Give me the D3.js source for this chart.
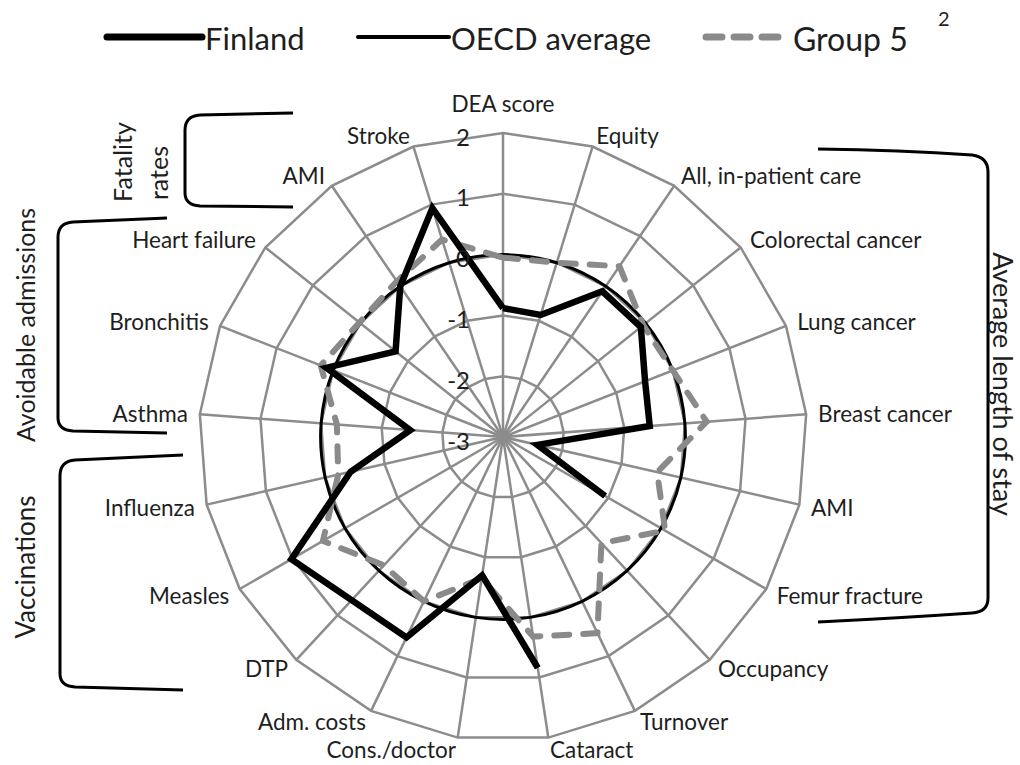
<!DOCTYPE html>
<html>
<head>
<meta charset="utf-8">
<script src="https://cdn.jsdelivr.net/npm/d3@7"></script>
<style>
  html, body { margin: 0; padding: 0; background: #fff; }
  svg { display: block; }
  text { font-family: Lato, "Open Sans", sans-serif; fill: #1e1e1e; }
</style>
</head>
<body>
<svg id="chart" width="1020" height="765"></svg>
<script>
// ---- data ----
const axes = ["DEA score", "Equity", "All, in-patient care", "Colorectal cancer", "Lung cancer",
  "Breast cancer", "AMI", "Femur fracture", "Occupancy", "Turnover", "Cataract", "Cons./doctor",
  "Adm. costs", "DTP", "Measles", "Influenza", "Asthma", "Bronchitis", "Heart failure", "AMI", "Stroke"];
const finland = [-0.88, -0.9, -0.1, -0.1, -0.49, -0.58, -2.42, -1.06, null, null, 0.84, -0.7,
  0.66, 0.66, 1.02, -0.43, -1.47, 0.12, -0.74, 0.0, 0.94];
const oecd = [0, 0, 0, 0, 0, 0, 0, 0, 0, 0, 0, 0, 0, 0, 0, 0, 0, 0, 0, 0, 0];
const group5 = [-0.05, 0.0, 0.4, -0.05, 0.0, 0.36, -0.4, 0.08, -0.62, 0.58, 0.32, -0.65,
  0.0, -0.12, 0.42, -0.22, -0.26, 0.22, 0.02, 0.1, 0.4];
const ticks = [-3, -2, -1, 0, 1, 2];
const seriesNames = ["Finland", "OECD average", "Group 5"];
const groups = [
  { label: ["Average length of stay"] },
  { label: ["Fatality", "rates"] },
  { label: ["Avoidable admissions"] },
  { label: ["Vaccinations"] }
];

// ---- layout ----
const svg = d3.select("#chart");
const cx = 503, cy = 437, R = 304;
const n = axes.length;
const r = d3.scaleLinear().domain([-3, 2]).range([0, R]);
const ang = d3.scaleLinear().domain([0, n]).range([0, 2 * Math.PI]);
const gridColor = "#8c8c8c";

const g = svg.append("g").attr("transform", `translate(${cx},${cy})`);

// rings (polygons)
const ringLine = d3.lineRadial().curve(d3.curveLinearClosed);
ticks.filter(t => t > -3).forEach(t => {
  g.append("path")
    .attr("d", ringLine(axes.map((a, i) => [ang(i), r(t)])))
    .attr("fill", "none").attr("stroke", gridColor).attr("stroke-width", 2.5);
});
// spokes
axes.forEach((a, i) => {
  const th = ang(i);
  g.append("line")
    .attr("x1", 0).attr("y1", 0)
    .attr("x2", R * Math.sin(th)).attr("y2", -R * Math.cos(th))
    .attr("stroke", gridColor).attr("stroke-width", 2.5);
});

// series
function closedData(vals) {
  const d = vals.map((v, i) => ({ i, v }));
  d.push({ i: n, v: vals[0] });
  return d;
}
const radial = d3.lineRadial()
  .defined(d => d.v !== null)
  .angle(d => ang(d.i))
  .radius(d => r(d.v));

// OECD average (smoothed)
g.append("path")
  .attr("d", d3.lineRadial().curve(d3.curveCardinalClosed.tension(0))
    .angle((d, i) => ang(i)).radius(d => r(d))(oecd))
  .attr("fill", "none").attr("stroke", "#000").attr("stroke-width", 3);

// Group 5
g.append("path")
  .attr("d", radial(closedData(group5)))
  .attr("fill", "none").attr("stroke", "#8a8a8a").attr("stroke-width", 6)
  .attr("stroke-dasharray", "15,14").attr("stroke-linecap", "round");

// Finland
g.append("path")
  .attr("d", radial(closedData(finland)))
  .attr("fill", "none").attr("stroke", "#000").attr("stroke-width", 6.5)
  .attr("stroke-linejoin", "miter").attr("stroke-miterlimit", 6);

// tick labels
ticks.forEach(t => {
  g.append("text")
    .attr("x", -33).attr("y", -r(t) + 3)
    .attr("text-anchor", "end").attr("dominant-baseline", "central")
    .style("font-size", "24px").text(t);
});

// axis labels
axes.forEach((a, i) => {
  const th = ang(i);
  const s = Math.sin(th), c = Math.cos(th);
  const pad = 12;
  let x = (R + pad) * s, y = -(R + pad) * c;
  let anchor = "middle";
  if (s > 0.05) anchor = "start";
  else if (s < -0.05) anchor = "end";
  if (Math.abs(s) < 0.05) y -= 18;
  g.append("text")
    .attr("x", x).attr("y", y)
    .attr("text-anchor", anchor).attr("dominant-baseline", "central")
    .style("font-size", "22.5px").text(a);
});

// ---- brackets ----
const bStroke = { stroke: "#000", "stroke-width": 3, fill: "none" };
function bracket(pts) {
  const p = svg.append("path").attr("d", pts);
  Object.entries(bStroke).forEach(([k, v]) => p.attr(k, v));
}
bracket("M818,149 Q900,150 972,155 Q988,157 988,172 L988,598 Q988,612 972,613 Q900,618 818,622");
bracket("M293,113 L200,115 Q185,116 185,130 L185,193 Q185,205 200,206 L293,207");
bracket("M167,218 L73,222 Q58,223 58,237 L58,418 Q58,430 73,431 L167,433");
bracket("M183,455 L75,460 Q60,461 60,476 L60,674 Q60,686 75,687 L183,690");

function sideText(x, y, rot, txt, size) {
  svg.append("text")
    .attr("transform", `translate(${x},${y}) rotate(${rot})`)
    .attr("text-anchor", "middle").attr("dominant-baseline", "central")
    .style("font-size", size + "px").text(txt);
}
sideText(1003, 384, 90, groups[0].label[0], 27);
sideText(122, 162, -90, groups[1].label[0], 25);
sideText(158, 173, -90, groups[1].label[1], 25);
sideText(25, 325, -90, groups[2].label[0], 25);
sideText(25, 567, -90, groups[3].label[0], 26);

// ---- legend ----
const leg = svg.append("g");
leg.append("line").attr("x1", 107).attr("x2", 202).attr("y1", 37).attr("y2", 37)
  .attr("stroke", "#000").attr("stroke-width", 7).attr("stroke-linecap", "round");
leg.append("text").attr("x", 205).attr("y", 38).attr("dominant-baseline", "central")
  .style("font-size", "31px").text(seriesNames[0]);
leg.append("line").attr("x1", 358).attr("x2", 449).attr("y1", 37).attr("y2", 37)
  .attr("stroke", "#000").attr("stroke-width", 4).attr("stroke-linecap", "round");
leg.append("text").attr("x", 451).attr("y", 38).attr("dominant-baseline", "central")
  .style("font-size", "31px").text(seriesNames[1]);
leg.append("line").attr("x1", 706).attr("x2", 780).attr("y1", 37).attr("y2", 37)
  .attr("stroke", "#8a8a8a").attr("stroke-width", 7).attr("stroke-linecap", "round")
  .attr("stroke-dasharray", "16,12");
leg.append("text").attr("x", 793).attr("y", 38).attr("dominant-baseline", "central")
  .style("font-size", "32px").text(seriesNames[2]);
leg.append("text").attr("x", 938).attr("y", 18).attr("dominant-baseline", "central")
  .style("font-size", "20px").text("2");
</script>
</body>
</html>
